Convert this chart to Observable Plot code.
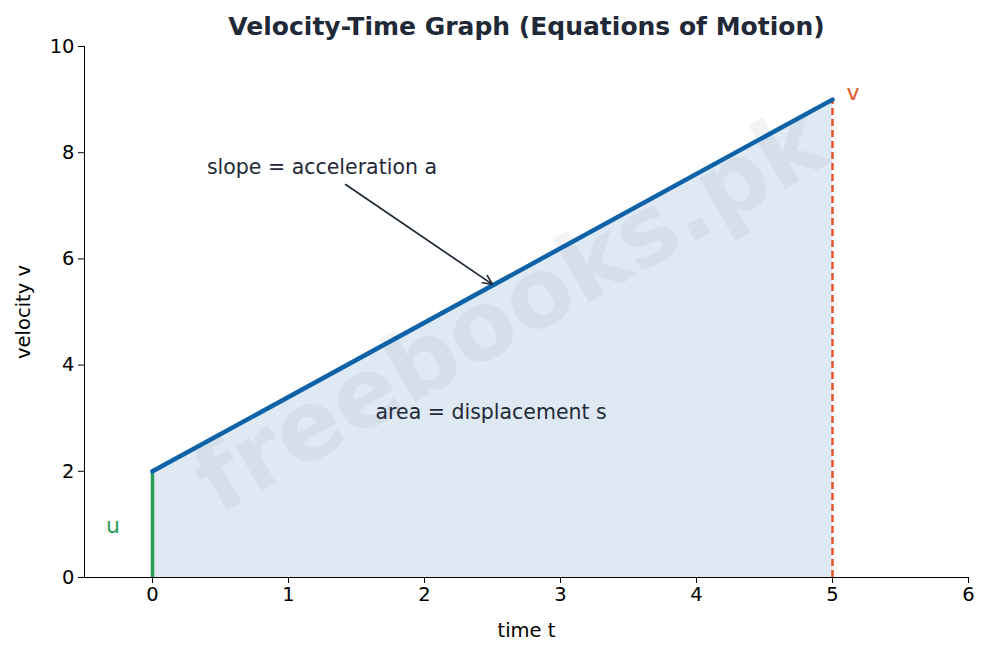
<!DOCTYPE html>
<html>
<head>
<meta charset="utf-8">
<script src="https://cdn.jsdelivr.net/npm/d3@7"></script>
<script src="https://cdn.jsdelivr.net/npm/@observablehq/plot@0.6"></script>
<style>
  html, body { margin: 0; padding: 0; background: #fff; }
  #chart { width: 989px; height: 655px; }
</style>
</head>
<body>
<div id="chart"></div>
<script>
// Data
const times = [0, 5];
const velocities = [2, 9];
const xTicks = [0, 1, 2, 3, 4, 5, 6];
const yTicks = [0, 2, 4, 6, 8, 10];
const uLabel = [{x: -0.29, y: 0.98, text: "u"}];
const vLabel = [{x: 5.15, y: 9.13, text: "v"}];
const slopeNote = [{x: 0.4, y: 7.72, text: "slope = acceleration a"}];
const slopeArrow = [{x1: 1.42, y1: 7.4, x2: 2.5, y2: 5.52}];
const areaNote = [{x: 2.49, y: 3.1, text: "area = displacement s"}];
const titleText = "Velocity-Time Graph (Equations of Motion)";
const watermark = "freebooks.pk";

const line = times.map((t, i) => ({t, v: velocities[i]}));
const uSeg = [{x: times[0], y1: 0, y2: velocities[0]}];
const vSeg = [{x: times[1], y1: 0, y2: velocities[1]}];

const chart = Plot.plot({
  width: 989,
  height: 655,
  marginLeft: 84,
  marginRight: 21,
  marginTop: 46,
  marginBottom: 78,
  style: {fontFamily: "DejaVu Sans", fontSize: "19.5px", color: "#000", background: "#fff", overflow: "visible"},
  x: {domain: [-0.5, 6], ticks: xTicks, tickFormat: "d", label: "time t", labelAnchor: "center", labelArrow: "none", labelOffset: 59, tickSize: 6, tickPadding: 4, line: true},
  y: {domain: [0, 10], ticks: yTicks, tickFormat: "d", label: "velocity v", labelAnchor: "center", labelArrow: "none", labelOffset: 68, tickSize: 6, tickPadding: 4, line: true},
  marks: [
    Plot.areaY(line, {x: "t", y: "v", fill: "#dfe9f3"}),
    Plot.text([watermark], {frameAnchor: "middle", text: d => d, rotate: -30, fontSize: 96, fontWeight: "bold", fill: "#93a3b3", fillOpacity: 0.13, dx: -16, dy: 0}),
    Plot.ruleX(uSeg, {x: "x", y1: "y1", y2: "y2", stroke: "#2a9d55", strokeWidth: 3.5}),
    Plot.ruleX(vSeg, {x: "x", y1: "y1", y2: "y2", stroke: "#e4572e", strokeWidth: 2.5, strokeDasharray: "7,4"}),
    Plot.line(line, {x: "t", y: "v", stroke: "#0d62a8", strokeWidth: 4.5}),
    Plot.text(uLabel, {x: "x", y: "y", text: "text", fill: "#2a9d55", fontSize: 22}),
    Plot.text(vLabel, {x: "x", y: "y", text: "text", fill: "#e4572e", fontSize: 22}),
    Plot.text(slopeNote, {x: "x", y: "y", text: "text", textAnchor: "start", fill: "#1f2937", fontSize: 20.5}),
    Plot.arrow(slopeArrow, {x1: "x1", y1: "y1", x2: "x2", y2: "y2", stroke: "#1f2937", strokeWidth: 1.7, headLength: 9, headAngle: 50}),
    Plot.text(areaNote, {x: "x", y: "y", text: "text", fill: "#1f2937", fontSize: 20.5}),
    Plot.text([titleText], {frameAnchor: "top", text: d => d, dy: -29, fontSize: 25, fontWeight: "bold", fill: "#1f2937"})
  ]
});
document.getElementById("chart").appendChild(chart);
</script>
</body>
</html>
